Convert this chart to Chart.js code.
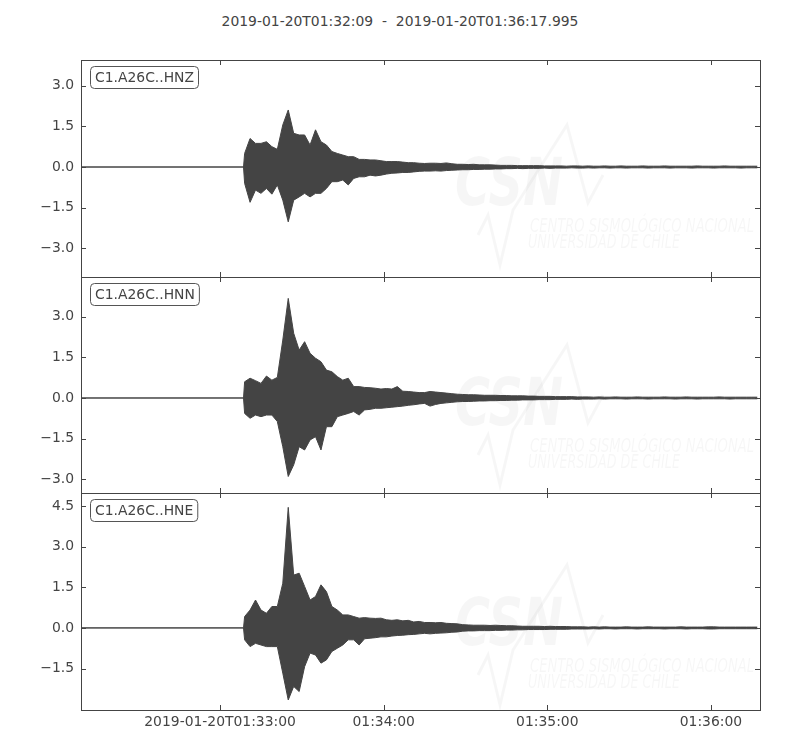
<!DOCTYPE html>
<html>
<head>
    <meta charset="UTF-8">
    <title>C1.A26C</title>
    <script src="https://cdn.jsdelivr.net/npm/chart.js"></script>
    <style>
        body { margin: 0; background: #fff; }
        #wrap { position: relative; width: 800px; height: 750px; }
        #title { position: absolute; left: 0; top: 13px; width: 800px; text-align: center;
                 font: 13.9px "DejaVu Sans"; line-height: 16px; color: #444; white-space: pre; }
        canvas { position: absolute; left: 0; }
    </style>
</head>
<body>
<div id="wrap">
    <div id="title">2019-01-20T01:32:09  -  2019-01-20T01:36:17.995</div>
    <canvas id="c1" width="800" height="237" style="top:50px"></canvas>
    <canvas id="c2" width="800" height="236" style="top:267px"></canvas>
    <canvas id="c3" width="800" height="267" style="top:483px"></canvas>
</div>
<script>
// seconds after 2019-01-20T01:32:09
const traceEnd = 248.995;
const onset = 60;      // first envelope sample
const step = 2;        // seconds between envelope samples

const timeTicks = [51, 111, 171, 231];
const timeLabels = ['2019-01-20T01:33:00', '01:34:00', '01:35:00', '01:36:00'];

// HNZ envelope (max / min per sample)
const hnzHi = [0.5, 1.05, 0.87, 0.87, 0.93, 0.75, 0.65, 1.55, 2.1, 1.24,
    1.18, 1.18, 0.81, 1.37, 0.93, 0.81, 0.57, 0.5, 0.44, 0.38,
    0.38, 0.28, 0.28, 0.26, 0.26, 0.23, 0.2, 0.2, 0.2, 0.18,
    0.16, 0.16, 0.14, 0.13, 0.14, 0.14, 0.13, 0.15, 0.12, 0.1,
    0.1, 0.09, 0.1, 0.08, 0.08, 0.08, 0.07, 0.06, 0.06, 0.06,
    0.05, 0.05, 0.05, 0.05, 0.05, 0.04, 0.04, 0.04, 0.04, 0.03,
    0.04, 0.04, 0.03, 0.04, 0.03, 0.03, 0.04, 0.03, 0.03, 0.04,
    0.03, 0.03, 0.03, 0.04, 0.03, 0.03, 0.03, 0.04, 0.03, 0.03,
    0.03, 0.03, 0.03, 0.04, 0.03, 0.03, 0.03, 0.03, 0.04, 0.03,
    0.03, 0.03, 0.03, 0.03, 0.03];
const hnzLo = [-0.6, -1.3, -0.85, -0.97, -0.79, -1.0, -0.66, -1.22, -2.02, -1.22,
    -1.1, -0.97, -1.1, -0.97, -0.97, -0.79, -0.54, -0.54, -0.48, -0.66,
    -0.42, -0.36, -0.36, -0.3, -0.33, -0.3, -0.26, -0.23, -0.22, -0.2,
    -0.2, -0.18, -0.16, -0.15, -0.15, -0.14, -0.15, -0.13, -0.12, -0.11,
    -0.1, -0.1, -0.09, -0.09, -0.08, -0.08, -0.07, -0.07, -0.06, -0.06,
    -0.05, -0.06, -0.05, -0.05, -0.05, -0.04, -0.05, -0.04, -0.04, -0.04,
    -0.03, -0.04, -0.04, -0.03, -0.04, -0.03, -0.03, -0.04, -0.03, -0.03,
    -0.04, -0.03, -0.03, -0.03, -0.04, -0.03, -0.03, -0.03, -0.04, -0.03,
    -0.03, -0.03, -0.04, -0.03, -0.03, -0.03, -0.04, -0.03, -0.03, -0.03,
    -0.03, -0.04, -0.03, -0.03, -0.03];

// HNN
const hnnHi = [0.6, 0.73, 0.64, 0.54, 0.81, 0.66, 0.76, 2.14, 3.68, 2.39,
    1.77, 2.08, 1.65, 1.47, 1.34, 1.03, 0.97, 0.79, 0.66, 0.73,
    0.42, 0.42, 0.39, 0.38, 0.36, 0.33, 0.35, 0.33, 0.42, 0.25,
    0.24, 0.22, 0.2, 0.2, 0.24, 0.22, 0.2, 0.18, 0.16, 0.14,
    0.13, 0.12, 0.12, 0.11, 0.1, 0.1, 0.1, 0.09, 0.09, 0.08,
    0.08, 0.08, 0.07, 0.07, 0.06, 0.06, 0.06, 0.05, 0.05, 0.05,
    0.05, 0.04, 0.04, 0.04, 0.03, 0.04, 0.03, 0.03, 0.04, 0.03,
    0.03, 0.03, 0.04, 0.03, 0.03, 0.03, 0.03, 0.04, 0.03, 0.03,
    0.03, 0.04, 0.03, 0.03, 0.03, 0.03, 0.03, 0.04, 0.03, 0.03,
    0.03, 0.03, 0.03, 0.03, 0.03];
const hnnLo = [-0.57, -0.75, -0.63, -0.69, -0.63, -0.63, -0.87, -1.8, -2.9, -2.47,
    -1.8, -1.92, -1.55, -1.43, -1.92, -1.06, -1.06, -0.69, -0.63, -0.57,
    -0.5, -0.63, -0.44, -0.42, -0.38, -0.38, -0.36, -0.34, -0.32, -0.3,
    -0.27, -0.25, -0.22, -0.2, -0.3, -0.24, -0.2, -0.18, -0.16, -0.14,
    -0.13, -0.13, -0.12, -0.11, -0.11, -0.1, -0.1, -0.09, -0.09, -0.08,
    -0.08, -0.07, -0.07, -0.07, -0.06, -0.06, -0.06, -0.05, -0.05, -0.05,
    -0.04, -0.05, -0.04, -0.04, -0.04, -0.03, -0.04, -0.03, -0.03, -0.03,
    -0.04, -0.03, -0.03, -0.03, -0.04, -0.03, -0.03, -0.03, -0.03, -0.04,
    -0.03, -0.03, -0.03, -0.04, -0.03, -0.03, -0.03, -0.03, -0.03, -0.04,
    -0.03, -0.03, -0.03, -0.03, -0.03];

// HNE
const hneHi = [0.42, 0.66, 1.03, 0.66, 0.54, 0.79, 0.79, 1.65, 4.45, 1.95,
    2.02, 1.53, 1.03, 1.16, 1.59, 1.34, 0.79, 0.66, 0.48, 0.48,
    0.42, 0.36, 0.38, 0.36, 0.35, 0.36, 0.3, 0.28, 0.3, 0.26,
    0.28, 0.22, 0.24, 0.2, 0.2, 0.19, 0.2, 0.17, 0.16, 0.15,
    0.12, 0.11, 0.1, 0.1, 0.1, 0.09, 0.1, 0.09, 0.08, 0.08,
    0.07, 0.06, 0.06, 0.06, 0.06, 0.05, 0.06, 0.05, 0.05, 0.05,
    0.04, 0.04, 0.04, 0.03, 0.04, 0.03, 0.04, 0.03, 0.03, 0.03,
    0.04, 0.03, 0.03, 0.03, 0.04, 0.03, 0.03, 0.03, 0.03, 0.03,
    0.04, 0.03, 0.03, 0.03, 0.03, 0.04, 0.04, 0.03, 0.03, 0.03,
    0.03, 0.03, 0.03, 0.03, 0.03];
const hneLo = [-0.44, -0.69, -0.57, -0.63, -0.69, -0.69, -0.69, -1.67, -2.66, -2.16,
    -2.35, -1.43, -0.93, -1.0, -1.3, -1.18, -0.87, -0.75, -0.63, -0.44,
    -0.44, -0.63, -0.4, -0.38, -0.36, -0.33, -0.33, -0.3, -0.28, -0.27,
    -0.25, -0.24, -0.22, -0.2, -0.22, -0.2, -0.19, -0.18, -0.16, -0.15,
    -0.12, -0.11, -0.11, -0.1, -0.1, -0.1, -0.09, -0.09, -0.08, -0.08,
    -0.07, -0.07, -0.06, -0.06, -0.06, -0.06, -0.05, -0.05, -0.05, -0.05,
    -0.04, -0.04, -0.04, -0.04, -0.03, -0.04, -0.03, -0.03, -0.04, -0.03,
    -0.03, -0.03, -0.04, -0.03, -0.03, -0.03, -0.03, -0.04, -0.03, -0.03,
    -0.03, -0.04, -0.03, -0.03, -0.03, -0.04, -0.04, -0.03, -0.03, -0.03,
    -0.03, -0.03, -0.03, -0.03, -0.03];

const hnzTicks = [-3, -1.5, 0, 1.5, 3];
const hnzTickLabels = ['\u22123.0', '\u22121.5', '0.0', '1.5', '3.0'];
const hnnTicks = [-3, -1.5, 0, 1.5, 3];
const hnnTickLabels = ['\u22123.0', '\u22121.5', '0.0', '1.5', '3.0'];
const hneTicks = [-1.5, 0, 1.5, 3, 4.5];
const hneTickLabels = ['\u22121.5', '0.0', '1.5', '3.0', '4.5'];

const WAVE = '#444444';
const AXIS = '#444444';
Chart.defaults.font.family = '"DejaVu Sans", sans-serif';
Chart.defaults.font.size = 13.9;
Chart.defaults.color = '#444';

function toPoints(vals) {
    var pts = [{ x: 0, y: 0 }, { x: onset - 0.4, y: 0 }];
    vals.forEach(function (v, i) { pts.push({ x: onset + i * step, y: v }); });
    return pts;
}

// faint logo behind each trace
const watermark = {
    id: 'watermark',
    beforeDatasetsDraw(chart, args, opts) {
        const ctx = chart.ctx, a = chart.chartArea;
        const ox = a.left, oy = a.top + opts.dy;
        ctx.save();
        ctx.fillStyle = 'rgba(0,0,0,0.035)';
        ctx.strokeStyle = 'rgba(0,0,0,0.035)';
        ctx.font = 'italic bold 66px "DejaVu Sans"';
        ctx.textBaseline = 'alphabetic';
        ctx.fillText('CSN', ox + 374, oy + 145, 108);
        ctx.font = 'italic 20px "DejaVu Sans"';
        ctx.fillText('CENTRO SISMOLÓGICO NACIONAL', ox + 449, oy + 172, 224);
        ctx.fillText('UNIVERSIDAD DE CHILE', ox + 447, oy + 188, 152);
        ctx.lineWidth = 3;
        ctx.beginPath();
        ctx.moveTo(ox + 397, oy + 175);
        ctx.lineTo(ox + 407, oy + 155);
        ctx.lineTo(ox + 419, oy + 205);
        ctx.lineTo(ox + 432, oy + 150);
        ctx.lineTo(ox + 486, oy + 65);
        ctx.lineTo(ox + 507, oy + 143);
        ctx.lineTo(ox + 522, oy + 115);
        ctx.stroke();
        ctx.restore();
    }
};

// box, inward ticks and station label
const frame = {
    id: 'frame',
    afterDatasetsDraw(chart, args, opts) {
        const ctx = chart.ctx, a = chart.chartArea;
        const xs = chart.scales.x, ys = chart.scales.y;
        const L = 5;
        ctx.save();
        ctx.strokeStyle = AXIS;
        ctx.lineWidth = 1;
        ctx.strokeRect(Math.round(a.left) + 0.5, Math.round(a.top) + 0.5,
            Math.round(a.right - a.left), Math.round(a.bottom - a.top));
        ctx.beginPath();
        ys.ticks.forEach(function (t) {
            const y = Math.round(ys.getPixelForValue(t.value)) + 0.5;
            ctx.moveTo(a.left, y); ctx.lineTo(a.left + L, y);
            ctx.moveTo(a.right, y); ctx.lineTo(a.right - L, y);
        });
        xs.ticks.forEach(function (t) {
            const x = Math.round(xs.getPixelForValue(t.value)) + 0.5;
            ctx.moveTo(x, a.top); ctx.lineTo(x, a.top + L);
            ctx.moveTo(x, a.bottom); ctx.lineTo(x, a.bottom - L);
        });
        ctx.stroke();

        // station label
        ctx.font = '13.9px "DejaVu Sans"';
        const w = ctx.measureText(opts.label).width;
        const bx = a.left + 9.5, by = a.top + 6.5, bw = w + 9, bh = 22;
        ctx.beginPath();
        ctx.roundRect(bx, by, bw, bh, 4);
        ctx.fillStyle = '#fff';
        ctx.fill();
        ctx.strokeStyle = '#555';
        ctx.stroke();
        ctx.fillStyle = '#444';
        ctx.textBaseline = 'middle';
        ctx.fillText(opts.label, bx + 4.5, by + bh / 2 + 0.5);
        ctx.restore();
    }
};

function makePanel(id, label, hi, lo, yMin, yMax, yTicks, yLabels, showX, dy) {
    new Chart(document.getElementById(id), {
        type: 'line',
        data: {
            datasets: [
                { data: toPoints(hi), borderColor: WAVE, backgroundColor: WAVE, borderWidth: 1,
                  pointRadius: 0, tension: 0, fill: '+1' },
                { data: toPoints(lo), borderColor: WAVE, borderWidth: 1,
                  pointRadius: 0, tension: 0, fill: false }
            ]
        },
        options: {
            responsive: false,
            animation: false,
            events: [],
            layout: { padding: { top: 10, right: 40, bottom: 10, left: 0 } },
            plugins: {
                legend: { display: false },
                tooltip: { enabled: false },
                frame: { label: label },
                watermark: { dy: dy }
            },
            scales: {
                x: {
                    type: 'linear', min: 0, max: traceEnd, display: showX,
                    grid: { display: false, drawTicks: false },
                    border: { display: false },
                    ticks: { padding: 4, maxRotation: 0, autoSkip: false,
                             callback: function (v, i) { return timeLabels[i]; } },
                    afterBuildTicks: function (s) { s.ticks = timeTicks.map(function (v) { return { value: v }; }); },
                    afterFit: function (s) {
                        s.height = showX ? 30 : 0;
                        s.paddingLeft = 0; s.paddingRight = 0;
                    }
                },
                y: {
                    min: yMin, max: yMax,
                    grid: { display: false, drawTicks: false },
                    border: { display: false },
                    ticks: { padding: 7, callback: function (v, i) { return yLabels[i]; } },
                    afterBuildTicks: function (s) { s.ticks = yTicks.map(function (v) { return { value: v }; }); },
                    afterFit: function (s) {
                        s.width = 81;
                        s.paddingTop = 0; s.paddingBottom = 0;
                    }
                }
            }
        },
        plugins: [watermark, frame]
    });
}

makePanel('c1', 'C1.A26C..HNZ', hnzHi, hnzLo, -4.05, 3.94, hnzTicks, hnzTickLabels, false, 0);
makePanel('c2', 'C1.A26C..HNN', hnnHi, hnnLo, -3.51, 4.47, hnnTicks, hnnTickLabels, false, 3);
makePanel('c3', 'C1.A26C..HNE', hneHi, hneLo, -3.03, 4.98, hneTicks, hneTickLabels, true, 7);
</script>
</body>
</html>
